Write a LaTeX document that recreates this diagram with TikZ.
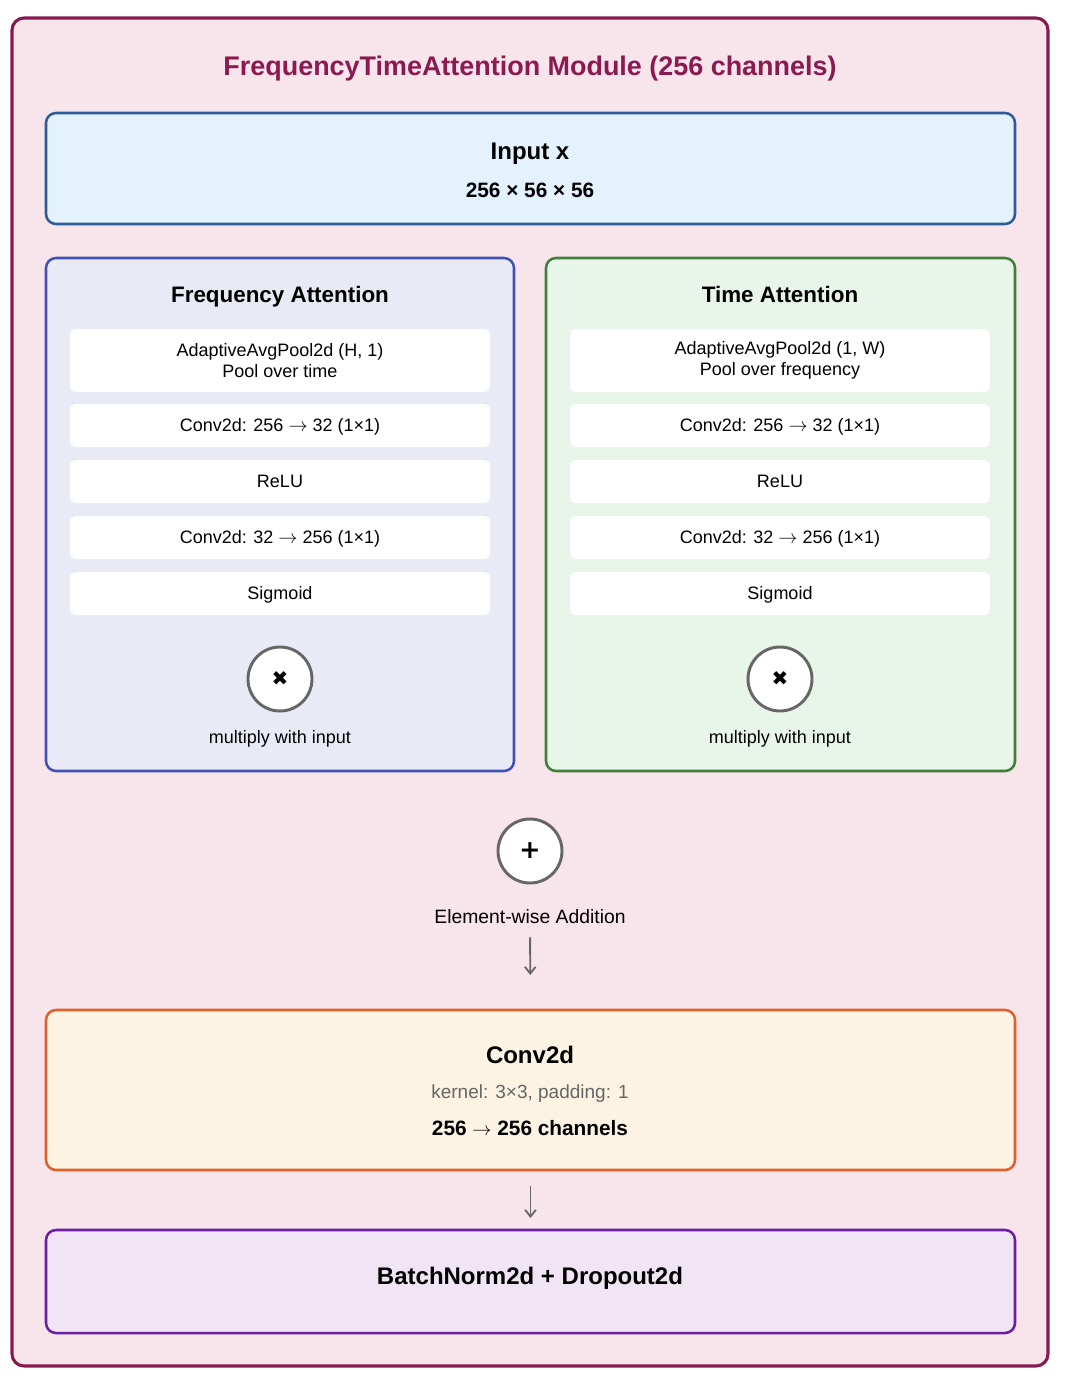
\documentclass[tikz,border=0pt]{standalone}
\usepackage{fontspec}
\setmainfont{Liberation Sans}
\newfontfamily\symfont{DejaVu Sans}
\usetikzlibrary{arrows.meta}
\definecolor{outerF}{HTML}{F8E4EB}
\definecolor{outerB}{HTML}{861A4E}
\definecolor{titleC}{HTML}{8A1A50}
\definecolor{inF}{HTML}{E3F2FD}
\definecolor{inB}{HTML}{2C5C9A}
\definecolor{frF}{HTML}{E8EAF6}
\definecolor{frB}{HTML}{3F51B5}
\definecolor{tiF}{HTML}{E8F5E9}
\definecolor{tiB}{HTML}{3E7F3A}
\definecolor{grayC}{HTML}{666666}
\definecolor{cvF}{HTML}{FDF3E2}
\definecolor{cvB}{HTML}{E0602A}
\definecolor{bnF}{HTML}{F1E4F4}
\definecolor{bnB}{HTML}{6A1FA0}
\newcommand{\rarr}{ $\rightarrow$ }
\begin{document}
\begin{tikzpicture}[x=0.75pt,y=-0.75pt,
  box/.style args={#1/#2}{rectangle, rounded corners=7.5pt, line width=1.9pt, minimum width=#1*0.75pt, minimum height=#2*0.75pt, inner sep=0pt, outer sep=0pt},
  step box/.style={rectangle, rounded corners=4pt, fill=white, minimum width=420*0.75pt, minimum height=43*0.75pt, inner sep=0pt, align=center, font=\fontsize{13.5}{16}\selectfont},
  opcirc/.style={circle, draw=grayC, line width=2.2pt, fill=white, minimum size=64*0.75pt, inner sep=0pt},
  txt/.style={inner sep=0pt, anchor=base},
  lbl/.style={txt, font=\fontsize{13.5}{16}\selectfont},
  head/.style={txt, font=\fontsize{16.8}{20}\selectfont\bfseries},
  arr/.style={draw=grayC, line width=1.4pt, -{Straight Barb[length=5pt,width=8pt,line width=1.4pt]}}
]
\useasboundingbox (0,0) rectangle (1070,1382);
% outer
\node[box=1036/1348, draw=outerB, fill=outerF, line width=2.3pt, rounded corners=9pt] (outer) at (530,692) {};
\node[txt, text=titleC, font=\fontsize{20.2}{24}\selectfont\bfseries] (title) at (530,75.6) {FrequencyTimeAttention Module (256 channels)};
% input
\node[box=969/111, draw=inB, fill=inF] (input) at (530.5,168.5) {};
\node[txt, font=\fontsize{18}{21}\selectfont\bfseries] (inputT) at (530,159.6) {Input x};
\node[txt, font=\fontsize{15.6}{18}\selectfont\bfseries] (inputS) at (530,197.4) {256 × 56 × 56};
% frequency
\node[box=468/513, draw=frB, fill=frF] (freq) at (280,514.5) {};
\node[head] (freqT) at (280,302) {Frequency Attention};
\node[step box, minimum height=63*0.75pt] (f1) at (280,360.5) {AdaptiveAvgPool2d (H, 1)\\Pool over time};
\node[step box] (f2) at (280,425.5) {};
\node[lbl] (f2T) at (280,431.5) {Conv2d: 256\rarr32 (1×1)};
\node[step box] (f3) at (280,481.5) {};
\node[lbl] (f3T) at (280,487.5) {ReLU};
\node[step box] (f4) at (280,537.5) {};
\node[lbl] (f4T) at (280,543.5) {Conv2d: 32\rarr256 (1×1)};
\node[step box] (f5) at (280,593.5) {};
\node[lbl] (f5T) at (280,599.5) {Sigmoid};
\node[opcirc] (fmul) at (280,679) {\symfont\fontsize{15}{16}\selectfont ✖};
\node[lbl] (fmulT) at (280,743.4) {multiply with input};
% time
\node[box=469/513, draw=tiB, fill=tiF] (time) at (780.5,514.5) {};
\node[head] (timeT) at (780,302) {Time Attention};
\node[step box, minimum height=63*0.75pt] (t1) at (780,360.5) {AdaptiveAvgPool2d (1, W)\\Pool over frequency};
\node[step box] (t2) at (780,425.5) {};
\node[lbl] (t2T) at (780,431.5) {Conv2d: 256\rarr32 (1×1)};
\node[step box] (t3) at (780,481.5) {};
\node[lbl] (t3T) at (780,487.5) {ReLU};
\node[step box] (t4) at (780,537.5) {};
\node[lbl] (t4T) at (780,543.5) {Conv2d: 32\rarr256 (1×1)};
\node[step box] (t5) at (780,593.5) {};
\node[lbl] (t5T) at (780,599.5) {Sigmoid};
\node[opcirc] (tmul) at (780,679) {\symfont\fontsize{15}{16}\selectfont ✖};
\node[lbl] (tmulT) at (780,743.4) {multiply with input};
% addition
\node[opcirc] (add) at (530,851) {\symfont\fontsize{19}{20}\selectfont\bfseries +};
\node[txt, font=\fontsize{14.5}{17}\selectfont] (addT) at (530,923.9) {Element-wise Addition};
% conv
\node[box=969/160, draw=cvB, fill=cvF] (conv) at (530.5,1090) {};
\node[txt, font=\fontsize{18}{21}\selectfont\bfseries] (convT) at (530,1063.6) {Conv2d};
\node[txt, text=grayC, font=\fontsize{14.25}{17}\selectfont] (convK) at (530,1098.8) {kernel: 3×3, padding: 1};
\node[txt, font=\fontsize{15.6}{18}\selectfont\bfseries] (convC) at (530,1135.4) {256\rarr256 channels};
% bn
\node[box=969/103, draw=bnB, fill=bnF] (bn) at (530.5,1281.5) {};
\node[txt, font=\fontsize{18}{21}\selectfont\bfseries] (bnT) at (530,1284.6) {BatchNorm2d + Dropout2d};
% arrows
\draw[arr, shorten <=13*0.75pt, shorten >=35*0.75pt] (addT.south) -- (conv.north);
\draw[arr, shorten <=16*0.75pt, shorten >=12*0.75pt] (conv.south) -- (bn.north);
\end{tikzpicture}
\end{document}
